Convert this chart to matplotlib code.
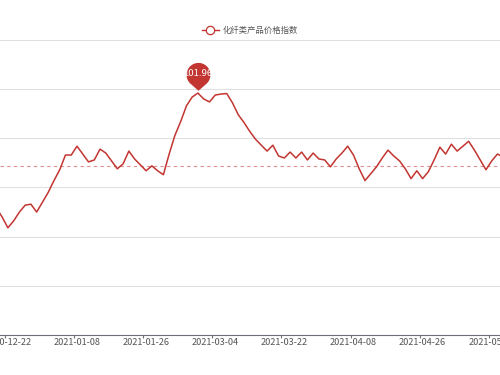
import numpy as np
import matplotlib.pyplot as plt
from matplotlib.path import Path
from matplotlib.lines import Line2D

plt.rcParams['font.family'] = ['Noto Sans CJK SC', 'DejaVu Sans']

# ── Data ──────────────────────────────────────────────────────────────────────

SERIES_NAME = "化纤类产品价格指数"

# first value sits two categories left of the "2020-12-22" label
START_IDX = -2
PRICE_INDEX = [
    100.79, 100.70, 100.59, 100.66, 100.75, 100.82, 100.83, 100.75, 100.85, 100.95,
    101.07, 101.18, 101.33, 101.33, 101.42, 101.34, 101.26, 101.28, 101.39, 101.35,
    101.27, 101.19, 101.24, 101.37, 101.29, 101.23, 101.17, 101.22, 101.17, 101.13,
    101.34, 101.53, 101.67, 101.83, 101.92, 101.96, 101.90, 101.87, 101.94, 101.95,
    101.955, 101.86, 101.74, 101.66, 101.57, 101.49, 101.43, 101.37, 101.43, 101.32,
    101.30, 101.36, 101.30, 101.36, 101.28, 101.35, 101.29, 101.28, 101.21, 101.29,
    101.35, 101.42, 101.33, 101.19, 101.07, 101.14, 101.21, 101.30, 101.38, 101.32,
    101.27, 101.19, 101.09, 101.17, 101.09, 101.16, 101.28, 101.41, 101.34, 101.44,
    101.37, 101.42, 101.47, 101.38, 101.28, 101.18, 101.27, 101.34, 101.31,
]

TICK_LABELS = ["2020-12-22", "2021-01-08", "2021-01-26", "2021-03-04",
               "2021-03-22", "2021-04-08", "2021-04-26", "2021-05-17"]
LABEL_STEP = 12          # one label every 12 categories
AVERAGE = 101.22         # markLine "average" (computed over the whole series)

RED = "#c23531"
AXIS_GREY = "#6e7079"
GRID_GREY = "#e0e0e0"


def pin_path(gap=0.23, center=1.56):
    """Balloon-shaped pin: unit circle above a tip, origin = anchored point."""
    alpha = np.degrees(np.arccos(1.0 / (center - gap)))
    arc = Path.arc(-90 + alpha, 270 - alpha)
    arc_verts = arc.vertices + [0, center]
    verts = np.vstack([[0, gap], arc_verts, [0, gap]])
    codes = ([Path.MOVETO, Path.LINETO] + list(arc.codes[1:]) + [Path.CLOSEPOLY])
    return Path(verts, codes)


# ── Drawing ───────────────────────────────────────────────────────────────────

fig = plt.figure(figsize=(5, 3.75), dpi=100, facecolor="white")
ax = fig.add_axes([0, 0.1067, 1, 0.7867])

x = np.arange(len(PRICE_INDEX)) + START_IDX
y = np.array(PRICE_INDEX)

ax.plot(x, y, color=RED, lw=1.1, zorder=3)
ax.axhline(AVERAGE, color=RED, lw=0.8, ls=(0, (3, 3)), alpha=0.55, zorder=2)

# max mark point
imax = int(np.argmax(y))
pin = pin_path()
rescale = np.abs(pin.vertices).max()
ax.plot(x[imax], y[imax], marker=pin, ms=8.6 * 2 * rescale,
        color=RED, mec="none", zorder=4, clip_on=False)
ax.annotate(f"{y[imax]:.2f}", (x[imax], y[imax]), xytext=(0, 14),
            textcoords="offset points", ha="center", va="center",
            color="white", fontsize=6.8, zorder=5)

# axes styling
ax.set_xlim(-1.368, 85.44)
ax.set_ylim(99.5, 102.5)
ax.set_yticks(np.arange(99.5, 102.51, 0.5))
ax.yaxis.grid(True, color=GRID_GREY, lw=0.8)
ax.set_axisbelow(True)
ax.tick_params(axis="y", left=False, labelleft=False)
for side in ("top", "left", "right"):
    ax.spines[side].set_visible(False)
ax.spines["bottom"].set_color(AXIS_GREY)
ax.spines["bottom"].set_linewidth(0.8)

label_pos = np.arange(len(TICK_LABELS)) * LABEL_STEP
ax.set_xticks(label_pos - 0.5)
ax.set_xticklabels([])
ax.tick_params(axis="x", which="major", length=2.5, width=0.8, color=AXIS_GREY)
ax.set_xticks(label_pos, minor=True)
ax.set_xticklabels(TICK_LABELS, minor=True)
ax.tick_params(axis="x", which="minor", length=0, pad=2.5,
               labelsize=6.6, labelcolor="#555555")

# legend
handle = Line2D([], [], color=RED, lw=1.0, marker="o", ms=6,
                mfc="white", mec=RED, mew=0.9)
fig.legend([handle], [SERIES_NAME], loc="center", bbox_to_anchor=(0.5, 0.92),
           frameon=False, fontsize=6, labelcolor="#555555",
           handlelength=2.0, handletextpad=0.5)

fig.savefig("out.png", dpi=100, facecolor="white")
